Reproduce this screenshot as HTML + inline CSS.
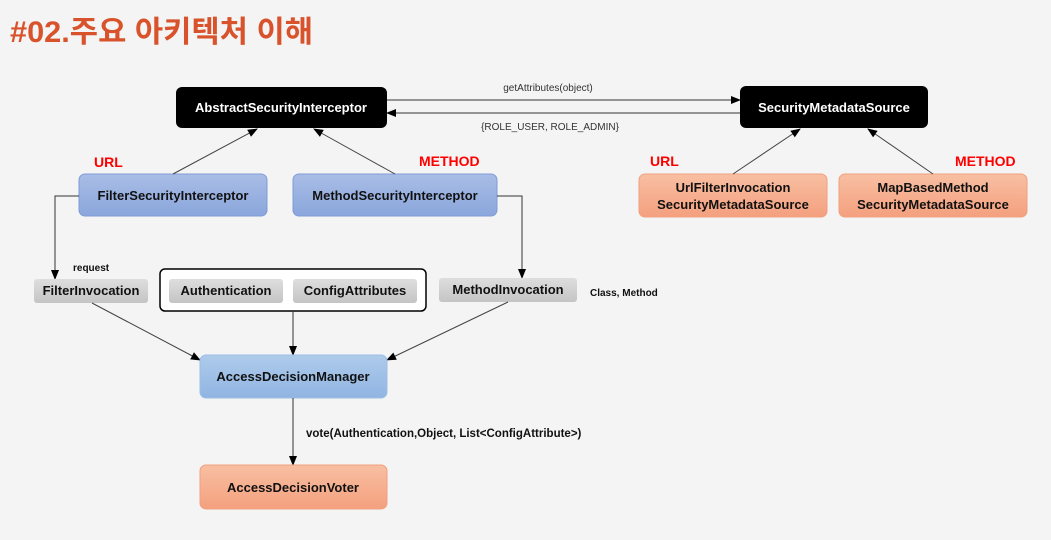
<!DOCTYPE html>
<html><head><meta charset="utf-8"><style>
body{margin:0;background:#f4f4f4;}
svg{display:block;font-family:"Liberation Sans","Noto Sans CJK KR",sans-serif;}
.b{font-weight:bold;font-size:13px;}
</style></head><body>
<svg width="1051" height="540" viewBox="0 0 1051 540" xmlns="http://www.w3.org/2000/svg">
<defs>
<marker id="a" markerWidth="10" markerHeight="10" refX="9" refY="5" orient="auto" markerUnits="userSpaceOnUse"><path d="M0,1 L10,5 L0,9z" fill="#000"/></marker>
<linearGradient id="bl" x1="0" y1="0" x2="0" y2="1"><stop offset="0" stop-color="#a9bde6"/><stop offset="1" stop-color="#8aa6dc"/></linearGradient>
<linearGradient id="bl2" x1="0" y1="0" x2="0" y2="1"><stop offset="0" stop-color="#aecbeb"/><stop offset="1" stop-color="#90b4e2"/></linearGradient>
<linearGradient id="or" x1="0" y1="0" x2="0" y2="1"><stop offset="0" stop-color="#f8bfa2"/><stop offset="1" stop-color="#f4a07e"/></linearGradient>
<linearGradient id="gr" x1="0" y1="0" x2="0" y2="1"><stop offset="0" stop-color="#dedede"/><stop offset="1" stop-color="#c4c4c4"/></linearGradient>
</defs>
<text x="10" y="42" font-size="30" font-weight="bold" fill="#d8532b" textLength="303" lengthAdjust="spacingAndGlyphs">#02.주요 아키텍처 이해</text>

<rect x="176" y="87" width="211" height="41" rx="6" fill="#000"/>
<text x="281" y="112" text-anchor="middle" class="b" fill="#fff">AbstractSecurityInterceptor</text>
<rect x="740" y="86" width="188" height="42" rx="6" fill="#000"/>
<text x="834" y="112" text-anchor="middle" class="b" fill="#fff">SecurityMetadataSource</text>

<line x1="387" y1="100" x2="740" y2="100" stroke="#333" marker-end="url(#a)"/>
<line x1="740" y1="113" x2="387" y2="113" stroke="#333" marker-end="url(#a)"/>
<text x="548" y="91" text-anchor="middle" font-size="10" fill="#333">getAttributes(object)</text>
<text x="550" y="130" text-anchor="middle" font-size="10" fill="#333">{ROLE_USER, ROLE_ADMIN}</text>

<text x="94" y="167" font-size="14" font-weight="bold" fill="#f00">URL</text>
<text x="419" y="166" font-size="14" font-weight="bold" fill="#f00">METHOD</text>
<text x="650" y="166" font-size="14" font-weight="bold" fill="#f00">URL</text>
<text x="955" y="166" font-size="14" font-weight="bold" fill="#f00">METHOD</text>

<rect x="79" y="174" width="188" height="42" rx="6" fill="url(#bl)" stroke="#7f9bd6"/>
<text x="173" y="200" text-anchor="middle" class="b" fill="#111">FilterSecurityInterceptor</text>
<rect x="293" y="174" width="204" height="42" rx="6" fill="url(#bl)" stroke="#7f9bd6"/>
<text x="395" y="200" text-anchor="middle" class="b" fill="#111">MethodSecurityInterceptor</text>

<rect x="639" y="174" width="188" height="43" rx="6" fill="url(#or)" stroke="#f0a07e"/>
<text x="733" y="192" text-anchor="middle" class="b" fill="#111">UrlFilterInvocation</text>
<text x="733" y="209" text-anchor="middle" class="b" fill="#111">SecurityMetadataSource</text>
<rect x="839" y="174" width="188" height="43" rx="6" fill="url(#or)" stroke="#f0a07e"/>
<text x="933" y="192" text-anchor="middle" class="b" fill="#111">MapBasedMethod</text>
<text x="933" y="209" text-anchor="middle" class="b" fill="#111">SecurityMetadataSource</text>

<line x1="173" y1="174" x2="257" y2="129" stroke="#444" marker-end="url(#a)"/>
<line x1="395" y1="174" x2="314" y2="129" stroke="#444" marker-end="url(#a)"/>
<line x1="733" y1="174" x2="800" y2="129" stroke="#444" marker-end="url(#a)"/>
<line x1="933" y1="174" x2="868" y2="129" stroke="#444" marker-end="url(#a)"/>

<polyline points="79,196 55,196 55,279" fill="none" stroke="#333" marker-end="url(#a)"/>
<polyline points="497,196 522,196 522,278" fill="none" stroke="#333" marker-end="url(#a)"/>
<text x="73" y="271" font-size="10" font-weight="bold" fill="#111">request</text>
<text x="590" y="296" font-size="10" font-weight="bold" fill="#111">Class, Method</text>

<rect x="34" y="279" width="114" height="24" rx="3" fill="url(#gr)"/>
<text x="91" y="295" text-anchor="middle" class="b" font-size="12" fill="#111">FilterInvocation</text>
<rect x="160" y="269" width="266" height="42" rx="5" fill="#fff" stroke="#000" stroke-width="1.5"/>
<rect x="169" y="279" width="114" height="24" rx="3" fill="url(#gr)"/>
<text x="226" y="295" text-anchor="middle" class="b" font-size="12" fill="#111">Authentication</text>
<rect x="293" y="279" width="124" height="24" rx="3" fill="url(#gr)"/>
<text x="355" y="295" text-anchor="middle" class="b" font-size="12" fill="#111">ConfigAttributes</text>
<rect x="439" y="278" width="138" height="24" rx="3" fill="url(#gr)"/>
<text x="508" y="294" text-anchor="middle" class="b" font-size="12" fill="#111">MethodInvocation</text>

<line x1="92" y1="303" x2="200" y2="360" stroke="#444" marker-end="url(#a)"/>
<line x1="293" y1="311" x2="293" y2="355" stroke="#333" marker-end="url(#a)"/>
<line x1="508" y1="302" x2="387" y2="360" stroke="#444" marker-end="url(#a)"/>

<rect x="200" y="355" width="187" height="43" rx="6" fill="url(#bl2)" stroke="#9dbde6"/>
<text x="293" y="381" text-anchor="middle" class="b" fill="#111">AccessDecisionManager</text>
<line x1="293" y1="398" x2="293" y2="465" stroke="#333" marker-end="url(#a)"/>
<text x="306" y="437" font-size="11.5" font-weight="bold" fill="#111">vote(Authentication,Object, List&lt;ConfigAttribute&gt;)</text>
<rect x="200" y="465" width="187" height="44" rx="6" fill="url(#or)" stroke="#f0a07e"/>
<text x="293" y="492" text-anchor="middle" class="b" fill="#111">AccessDecisionVoter</text>
</svg>
</body></html>
